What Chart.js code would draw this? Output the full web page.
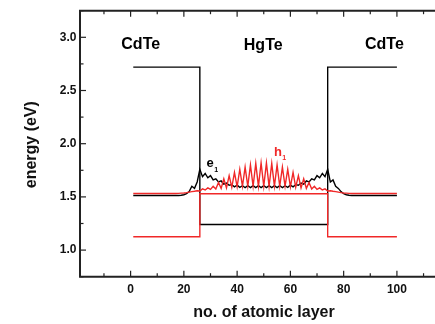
<!DOCTYPE html>
<html>
<head>
<meta charset="utf-8">
<script src="https://cdn.jsdelivr.net/npm/chart.js@4.4.1/dist/chart.umd.min.js"></script>
<style>
  html, body { margin: 0; padding: 0; background: #fff; overflow: hidden; }
</style>
</head>
<body>
<canvas id="c" width="435" height="324"></canvas>
<script>
// ---- data ----
const bandX = [1, 26, 26, 74, 74, 100];
const conductionBand = [2.72, 2.72, 1.24, 1.24, 2.72, 2.72];
const valenceBand = [1.125, 1.125, 1.53, 1.53, 1.125, 1.125];

// layers 1..100
const e1Values = [
  1.513, 1.513, 1.513, 1.513, 1.513, 1.513, 1.513, 1.513, 1.513, 1.513,
  1.513, 1.513, 1.513, 1.513, 1.513, 1.513, 1.513, 1.513, 1.515, 1.52,
  1.53, 1.55, 1.60, 1.58, 1.64, 1.76, 1.69, 1.72, 1.68, 1.70,
  1.66, 1.67, 1.64, 1.65, 1.62, 1.63, 1.61, 1.615, 1.595, 1.61,
  1.59, 1.605, 1.588, 1.605, 1.587, 1.605, 1.587, 1.605, 1.587, 1.605,
  1.587, 1.605, 1.587, 1.605, 1.587, 1.605, 1.588, 1.605, 1.59, 1.61,
  1.595, 1.615, 1.61, 1.63, 1.62, 1.65, 1.64, 1.67, 1.66, 1.70,
  1.68, 1.72, 1.69, 1.76, 1.64, 1.66, 1.60, 1.58, 1.55, 1.53,
  1.52, 1.515, 1.513, 1.513, 1.513, 1.513, 1.513, 1.513, 1.513, 1.513,
  1.513, 1.513, 1.513, 1.513, 1.513, 1.513, 1.513, 1.513, 1.513, 1.513
];
const h1Values = [
  1.532, 1.532, 1.532, 1.532, 1.532, 1.532, 1.532, 1.532, 1.532, 1.532,
  1.532, 1.532, 1.532, 1.532, 1.532, 1.532, 1.532, 1.533, 1.535, 1.537,
  1.54, 1.545, 1.55, 1.553, 1.558, 1.555, 1.575, 1.565, 1.585, 1.57,
  1.60, 1.575, 1.635, 1.58, 1.67, 1.585, 1.70, 1.59, 1.73, 1.595,
  1.76, 1.60, 1.78, 1.60, 1.80, 1.60, 1.815, 1.60, 1.82, 1.60,
  1.82, 1.60, 1.815, 1.60, 1.80, 1.60, 1.78, 1.60, 1.76, 1.595,
  1.73, 1.59, 1.70, 1.585, 1.67, 1.58, 1.635, 1.575, 1.60, 1.57,
  1.585, 1.565, 1.575, 1.555, 1.558, 1.553, 1.55, 1.545, 1.54, 1.537,
  1.535, 1.533, 1.532, 1.532, 1.532, 1.532, 1.532, 1.532, 1.532, 1.532,
  1.532, 1.532, 1.532, 1.532, 1.532, 1.532, 1.532, 1.532, 1.532, 1.532
];
const layers = e1Values.map((_, i) => i + 1);

const xTicks = [0, 20, 40, 60, 80, 100];
const xMinorTicks = [-10, 10, 30, 50, 70, 90, 110];
const yTicks = [1.0, 1.5, 2.0, 2.5, 3.0];
const yMinorTicks = [0.75, 1.25, 1.75, 2.25, 2.75, 3.25];

const xTitle = 'no. of atomic layer';
const yTitle = 'energy (eV)';
const regionLabels = [
  { text: 'CdTe', x: 3.8, y: 2.93 },
  { text: 'HgTe', x: 49.8, y: 2.92 },
  { text: 'CdTe', x: 95.3, y: 2.93 }
];
const stateLabels = [
  { text: 'e', sub: '1', x: 29.9, y: 1.813, color: '#000' },
  { text: 'h', sub: '1', x: 55.3, y: 1.92, color: 'rgb(240,40,40)' }
];

// ---- chart ----
const FONT = '"Liberation Sans", Arial, sans-serif';
const RED = 'rgb(240,40,40)';
const toXY = (xs, ys) => xs.map((x, i) => ({ x, y: ys[i] }));

const decor = {
  id: 'decor',
  afterDatasetsDraw(chart) {
    const { ctx, chartArea: a, scales: { x, y } } = chart;
    ctx.save();
    ctx.strokeStyle = '#222';
    ctx.lineWidth = 1.2;
    const seg = (x1, y1, x2, y2) => { ctx.beginPath(); ctx.moveTo(x1, y1); ctx.lineTo(x2, y2); ctx.stroke(); };
    const majL = 6, minL = 3.5;
    xTicks.forEach(v => { const p = x.getPixelForValue(v); seg(p, a.bottom, p, a.bottom - majL); seg(p, a.top, p, a.top + majL); });
    xMinorTicks.forEach(v => { const p = x.getPixelForValue(v); seg(p, a.bottom, p, a.bottom - minL); seg(p, a.top, p, a.top + minL); });
    yTicks.forEach(v => { const p = y.getPixelForValue(v); seg(a.left, p, a.left + majL, p); });
    yMinorTicks.forEach(v => { const p = y.getPixelForValue(v); seg(a.left, p, a.left + minL, p); });
    ctx.lineWidth = 2;
    ctx.beginPath();
    ctx.moveTo(a.right + 2, a.top);
    ctx.lineTo(a.left, a.top);
    ctx.lineTo(a.left, a.bottom);
    ctx.lineTo(a.right + 2, a.bottom);
    ctx.stroke();

    // region labels
    ctx.fillStyle = '#000';
    ctx.textAlign = 'center';
    ctx.textBaseline = 'middle';
    ctx.font = 'bold 16px ' + FONT;
    regionLabels.forEach(l => ctx.fillText(l.text, x.getPixelForValue(l.x), y.getPixelForValue(l.y)));

    // state labels with subscripts
    stateLabels.forEach(l => {
      ctx.fillStyle = l.color;
      ctx.font = 'bold 13px ' + FONT;
      const px = x.getPixelForValue(l.x), py = y.getPixelForValue(l.y);
      ctx.textAlign = 'center';
      ctx.fillText(l.text, px, py);
      const w = ctx.measureText(l.text).width;
      ctx.font = 'bold 7px ' + FONT;
      ctx.textAlign = 'left';
      ctx.fillText(l.sub, px + w / 2 + 0.5, py + 6);
    });

    // axis titles
    ctx.fillStyle = '#111';
    ctx.font = 'bold 16px ' + FONT;
    ctx.textAlign = 'center';
    ctx.fillText(xTitle, 264, 313);
    ctx.translate(32, (a.top + a.bottom) / 2 + 1);
    ctx.rotate(-Math.PI / 2);
    ctx.fillText(yTitle, 0, 0);
    ctx.restore();
  }
};

new Chart(document.getElementById('c'), {
  type: 'line',
  data: {
    datasets: [
      { data: toXY(layers, h1Values), borderColor: RED, order: 1 },
      { data: toXY(bandX, valenceBand), borderColor: RED, order: 2 },
      { data: toXY(layers, e1Values), borderColor: '#000', order: 3 },
      { data: toXY(bandX, conductionBand), borderColor: '#000', order: 4 }
    ]
  },
  options: {
    responsive: false,
    animation: false,
    datasets: { line: { pointRadius: 0, borderWidth: 1.4, tension: 0, fill: false } },
    layout: { padding: { top: 6.7, right: 0, left: 0, bottom: 0 } },
    plugins: { legend: { display: false }, tooltip: { enabled: false } },
    scales: {
      x: {
        type: 'linear', min: -19, max: 114.3,
        afterBuildTicks: s => { s.ticks = xTicks.map(v => ({ value: v })); },
        afterFit: s => { s.height = 47.3; },
        grid: { display: false, drawTicks: false },
        border: { display: false },
        ticks: { color: '#111', font: { family: FONT, size: 12, weight: 'bold' }, padding: 5.5, maxRotation: 0, autoSkip: false, callback: v => String(v) }
      },
      y: {
        type: 'linear', min: 0.75, max: 3.25,
        afterBuildTicks: s => { s.ticks = yTicks.map(v => ({ value: v })); },
        afterFit: s => { s.width = 80; },
        grid: { display: false, drawTicks: false },
        border: { display: false },
        ticks: { color: '#111', font: { family: FONT, size: 12, weight: 'bold' }, padding: 3.5, autoSkip: false, callback: v => Number(v).toFixed(1) }
      }
    }
  },
  plugins: [decor]
});
</script>
</body>
</html>
